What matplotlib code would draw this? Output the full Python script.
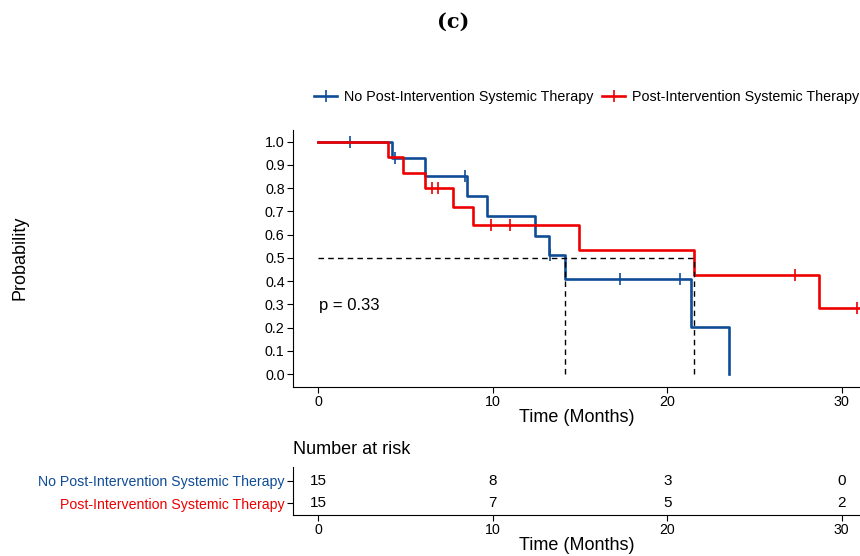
import numpy as np
import matplotlib.pyplot as plt
from matplotlib.lines import Line2D

plt.rcParams['font.family'] = ['Liberation Sans', 'DejaVu Sans']

# event / censor times (months)
no_events   = [4.2, 6.1, 8.5, 9.65, 12.4, 13.2, 14.15, 21.35, 23.55]
no_censor   = [1.8, 4.4, 8.4, 13.3, 17.3, 20.75]
post_events = [3.97, 4.83, 6.09, 7.7, 8.84, 14.92, 21.55, 28.7]
post_censor = [6.5, 6.86, 9.9, 11.0, 27.3, 30.9, 31.6]

risk_times = [0, 10, 20, 30]
risk_no    = [15, 8, 3, 0]
risk_post  = [15, 7, 5, 2]

labels = ['No Post-Intervention Systemic Therapy', 'Post-Intervention Systemic Therapy']
c_no, c_post = '#0F4C96', '#EE0000'
p_text = 'p = 0.33'


def km(events, censor):
    ev = [(t, 1) for t in events] + [(t, 0) for t in censor]
    ev.sort()
    n = len(ev)
    s = 1.0
    t_out, s_out = [0.0], [1.0]
    cens_t, cens_s = [], []
    for t, d in ev:
        if d:
            s *= (n - 1) / n
            t_out.append(t)
            s_out.append(s)
        else:
            cens_t.append(t)
            cens_s.append(s)
        n -= 1
    return np.array(t_out), np.array(s_out), cens_t, cens_s


fig = plt.figure(figsize=(8.6, 5.56), dpi=100)
ax = fig.add_axes([293/860, 1-387/556, 1-293/860, 257/556])

medians = []
for evs, cens, col in [(no_events, no_censor, c_no), (post_events, post_censor, c_post)]:
    t, s, ct, cs = km(evs, cens)
    tmax = max(evs + cens)
    tt = np.append(t, tmax)
    ss = np.append(s, s[-1])
    ax.step(tt, ss, where='post', color=col, lw=1.9)
    ax.plot(ct, cs, ls='none', marker='|', ms=8, mew=1.2, color=col)
    medians.append(t[np.argmax(s <= 0.5)])

ax.plot([0, max(medians)], [0.5, 0.5], 'k--', lw=1, dashes=(4, 3))
for m in medians:
    ax.plot([m, m], [0, 0.5], 'k--', lw=1, dashes=(4, 3))

ax.text(0.05, 0.295, p_text, fontsize=12, va='center', ha='left')

ax.set_xlim(-1.45, 31.05)
ax.set_ylim(-0.055, 1.05)
ax.set_xticks(risk_times)
ax.set_yticks(np.round(np.arange(0, 1.01, 0.1), 1))
ax.set_yticklabels([f'{v:.1f}' for v in np.arange(0, 1.01, 0.1)])
for sp in ['top', 'right']:
    ax.spines[sp].set_visible(False)
ax.tick_params(labelsize=10.3, length=4, width=0.8, pad=2)
ax.set_xlabel('Time (Months)', fontsize=13, labelpad=0)
fig.text(20/860, 1-258/556, 'Probability', rotation=90, fontsize=13, ha='center', va='center')

handles = [Line2D([], [], color=c, lw=1.9, marker='|', ms=8, mew=1.2) for c in (c_no, c_post)]
fig.legend(handles, labels, loc='center', bbox_to_anchor=(587/860, 1-97/556), ncol=2,
           frameon=False, fontsize=10.3, handlelength=1.6, handletextpad=0.5, columnspacing=0.6)

fig.text(453/860, 1-22/556, '(c)', fontsize=15, fontweight='bold', family='DejaVu Serif',
         ha='center', va='center')

# risk table
rt = fig.add_axes([293/860, 1-515/556, 1-293/860, 48/556])
for xv, a, b in zip(risk_times, risk_no, risk_post):
    rt.text(xv, 1, str(a), ha='center', va='center', fontsize=11)
    rt.text(xv, 0, str(b), ha='center', va='center', fontsize=11)
rt.set_xlim(-1.45, 31.05)
rt.set_ylim(-0.545, 1.636)
rt.set_xticks(risk_times)
rt.set_yticks([1, 0])
rt.set_yticklabels(labels)
for lab, col in zip(rt.get_yticklabels(), (c_no, c_post)):
    lab.set_color(col)
for sp in ['top', 'right']:
    rt.spines[sp].set_visible(False)
rt.tick_params(labelsize=10.2, length=4, width=0.8, pad=2)
rt.set_xlabel('Time (Months)', fontsize=13, labelpad=0)
fig.text(293/860, 1-450/556, 'Number at risk', fontsize=13, ha='left', va='center')

fig.savefig('out.png', dpi=100)
